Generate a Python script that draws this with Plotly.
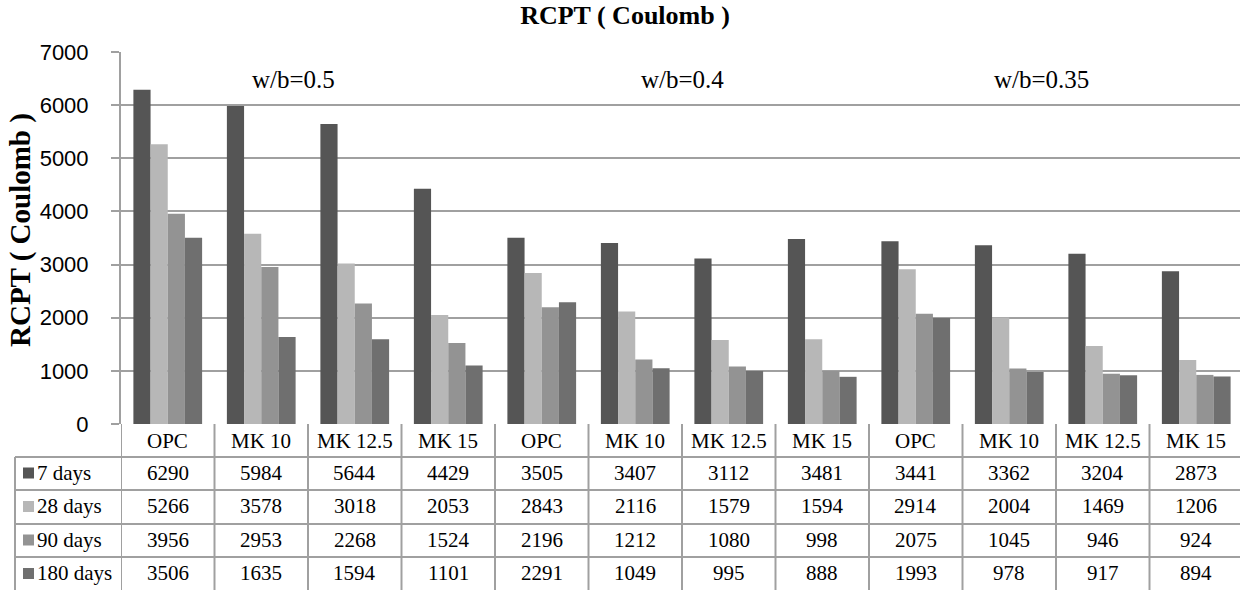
import plotly.graph_objects as go

# ---------------- data ----------------
categories = ["OPC", "MK 10", "MK 12.5", "MK 15",
              "OPC", "MK 10", "MK 12.5", "MK 15",
              "OPC", "MK 10", "MK 12.5", "MK 15"]
group_labels = ["w/b=0.5", "w/b=0.4", "w/b=0.35"]
series_names = ["7 days", "28 days", "90 days", "180 days"]
days_7 = [6290, 5984, 5644, 4429, 3505, 3407, 3112, 3481, 3441, 3362, 3204, 2873]
days_28 = [5266, 3578, 3018, 2053, 2843, 2116, 1579, 1594, 2914, 2004, 1469, 1206]
days_90 = [3956, 2953, 2268, 1524, 2196, 1212, 1080, 998, 2075, 1045, 946, 924]
days_180 = [3506, 1635, 1594, 1101, 2291, 1049, 995, 888, 1993, 978, 917, 894]
y_ticks = [0, 1000, 2000, 3000, 4000, 5000, 6000, 7000]

series_values = [days_7, days_28, days_90, days_180]
colors = ["#555555", "#b7b7b7", "#939393", "#6f6f6f"]

# ---------------- layout geometry ----------------
W, H = 1240, 590
ML, MR, MT, MB = 121, 0, 52, 166
PW = W - ML - MR
PH = H - MT - MB
CAT_W = 93.5
x_max = -0.5 + PW / CAT_W


def py(p):
    """pixel y -> paper y"""
    return (H - MB - p) / PH


def ppx(p):
    """pixel x -> paper x"""
    return (p - ML) / PW


GRID = "#a0a0a0"
SERIF = "Liberation Serif"
SANS = "Liberation Sans"

x = list(range(len(categories)))

fig = go.Figure()
for name, vals, col in zip(series_names, series_values, colors):
    fig.add_trace(go.Bar(x=x, y=vals, name=name, marker_color=col,
                         marker_line_width=0, showlegend=False))

shapes = []
annotations = []

# table rows (pixel y boundaries)
row_edges = [424, 457, 490, 524, 557, 591]
for yb in row_edges[1:-1]:
    shapes.append(dict(type="line", xref="paper", yref="paper",
                       x0=ppx(15), x1=1, y0=py(yb), y1=py(yb),
                       line=dict(color=GRID, width=2)))
# vertical lines between categories
for k in range(len(categories) + 1):
    xv = k - 0.5
    if xv > x_max:
        continue
    shapes.append(dict(type="line", xref="x", yref="paper",
                       x0=xv, x1=xv, y0=py(424), y1=py(591),
                       line=dict(color=GRID, width=2)))
# left column border
shapes.append(dict(type="line", xref="paper", yref="paper",
                   x0=ppx(15), x1=ppx(15), y0=py(457), y1=py(591),
                   line=dict(color=GRID, width=2)))

TFONT = dict(family=SERIF, size=21, color="black")
# header labels
hc = (row_edges[0] + row_edges[1]) / 2
for k, c in enumerate(categories):
    annotations.append(dict(x=k, y=py(hc), xref="x", yref="paper", text=c,
                            showarrow=False, xanchor="center", yanchor="middle",
                            font=TFONT))
# rows
for r, (name, vals, col) in enumerate(zip(series_names, series_values, colors)):
    rc = (row_edges[r + 1] + row_edges[r + 2]) / 2 - 1
    shapes.append(dict(type="rect", xref="paper", yref="paper",
                       x0=ppx(23), x1=ppx(34), y0=py(rc + 6), y1=py(rc - 5),
                       fillcolor=col, line=dict(width=0)))
    annotations.append(dict(x=ppx(35), y=py(rc), xref="paper", yref="paper", text=name,
                            showarrow=False, xanchor="left", yanchor="middle",
                            font=TFONT))
    for k, v in enumerate(vals):
        annotations.append(dict(x=k, y=py(rc), xref="x", yref="paper", text=str(v),
                                showarrow=False, xanchor="center", yanchor="middle",
                                font=TFONT))

# group labels
for gx, g in zip([1.35, 5.5, 9.35], group_labels):
    annotations.append(dict(x=gx, y=py(79), xref="x", yref="paper", text=g,
                            showarrow=False, xanchor="center", yanchor="middle",
                            font=dict(family=SERIF, size=25, color="black")))

# y-axis title
annotations.append(dict(x=ppx(20), y=py(230), xref="paper", yref="paper",
                        text="<b>RCPT ( Coulomb )</b>", textangle=-90,
                        showarrow=False, xanchor="center", yanchor="middle",
                        font=dict(family=SERIF, size=29, color="black")))

fig.update_layout(
    width=W, height=H,
    margin=dict(l=ML, r=MR, t=MT, b=MB, pad=0),
    paper_bgcolor="white", plot_bgcolor="white",
    barmode="group", bargap=0.265, bargroupgap=0,
    title=dict(text="<b>RCPT ( Coulomb )</b>", x=625 / W, xref="container",
               y=1 - 15 / H, yref="container", xanchor="center", yanchor="middle",
               font=dict(family=SERIF, size=26, color="black")),
    xaxis=dict(range=[-0.5, x_max], showticklabels=False, showgrid=False,
               zeroline=False, showline=False, ticks=""),
    yaxis=dict(range=[0, 7000], tickvals=y_ticks, ticktext=[str(t) for t in y_ticks],
               showgrid=True, gridcolor=GRID, gridwidth=2, zeroline=False,
               showline=True, linecolor=GRID, linewidth=2,
               ticks="outside", ticklen=8, tickwidth=2, tickcolor=GRID,
               ticklabelstandoff=18,
               tickfont=dict(family=SANS, size=22, color="black")),
    shapes=shapes, annotations=annotations,
)

fig.write_html("out.html",
               config={"displayModeBar": False},
               post_script="document.body.style.margin='0';"
                           "document.body.style.overflow='hidden';")
